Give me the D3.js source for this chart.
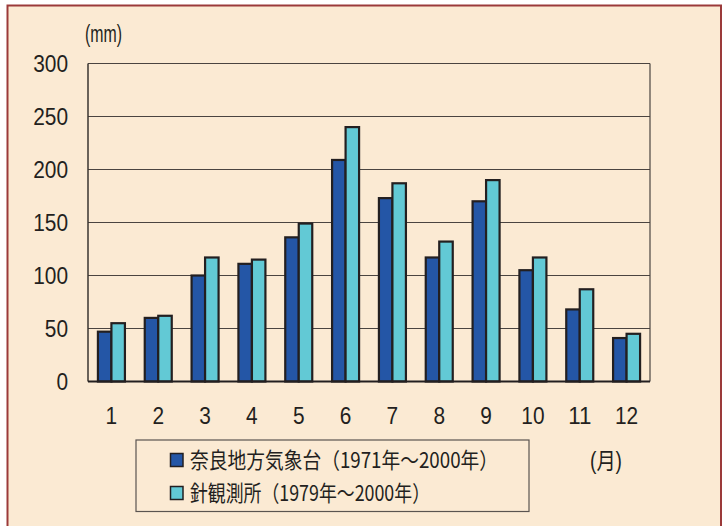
<!DOCTYPE html>
<html>
<head>
<meta charset="utf-8">
<script src="https://cdn.jsdelivr.net/npm/d3@7"></script>
<style>
  body { margin: 0; background: #fff; }
  svg text { font-family: "Liberation Sans Narrow", "Liberation Sans", "Noto Sans CJK JP", sans-serif; fill: #231f20; }
</style>
</head>
<body>
<svg id="chart"></svg>
<script>
/* Data */
const months = ["1", "2", "3", "4", "5", "6", "7", "8", "9", "10", "11", "12"];
const seriesNames = ["奈良地方気象台（1971年～2000年）", "針観測所（1979年～2000年）"];
const naraValues = [47, 60, 100, 111, 136, 209, 173, 117, 170, 105, 68, 41];
const hariValues = [55, 62, 117, 115, 149, 240, 187, 132, 190, 117, 87, 45];
const yTicks = [0, 50, 100, 150, 200, 250, 300];

const rows = months.map((m, i) => ({ month: m, values: [naraValues[i], hariValues[i]] }));

/* Chart dimensions */
const W = 723, H = 526;
const plot = { left: 88, right: 650, top: 63.5, bottom: 381.5 };

const svg = d3.select("#chart").attr("width", W).attr("height", H);

/* background + frame */
svg.append("rect")
    .attr("x", 7.5).attr("y", 5.5)
    .attr("width", 713.5).attr("height", 530)
    .attr("fill", "#fbead3")
    .attr("stroke", "#9b3a3a").attr("stroke-width", 2);

/* Scales */
const x = d3.scaleBand().domain(months).range([plot.left, plot.right]);
const xInner = d3.scaleBand().domain([0, 1]).range([0, 27]);
const y = d3.scaleLinear().domain([0, 300]).range([plot.bottom, plot.top]);
const colors = ["#2456a6", "#62c9d5"];

/* grid lines */
svg.append("g")
    .selectAll("line")
    .data(yTicks)
    .join("line")
      .attr("x1", plot.left).attr("x2", plot.right)
      .attr("y1", d => y(d)).attr("y2", d => y(d))
      .attr("stroke", "#4a4440").attr("stroke-width", 1.2);

/* plot frame (left, right) */
svg.append("line")
    .attr("x1", plot.left).attr("x2", plot.left)
    .attr("y1", plot.top).attr("y2", plot.bottom)
    .attr("stroke", "#3a3430").attr("stroke-width", 1.5);
svg.append("line")
    .attr("x1", plot.right).attr("x2", plot.right)
    .attr("y1", plot.top).attr("y2", plot.bottom)
    .attr("stroke", "#4a4440").attr("stroke-width", 1.2);

/* bars */
const groups = svg.append("g")
    .selectAll("g")
    .data(rows)
    .join("g")
      .attr("transform", d => `translate(${x(d.month) + x.bandwidth() / 2 - 13.5},0)`);

groups.selectAll("rect")
    .data(d => d.values.map((v, k) => ({ k, v })))
    .join("rect")
      .attr("x", d => xInner(d.k))
      .attr("y", d => y(d.v))
      .attr("width", xInner.bandwidth())
      .attr("height", d => y(0) - y(d.v))
      .attr("fill", d => colors[d.k])
      .attr("stroke", "#231f20")
      .attr("stroke-width", 2.2);

/* bottom axis line */
svg.append("line")
    .attr("x1", plot.left).attr("x2", plot.right)
    .attr("y1", plot.bottom).attr("y2", plot.bottom)
    .attr("stroke", "#231f20").attr("stroke-width", 2);

/* y tick labels (condensed digits) */
svg.append("g")
    .selectAll("text")
    .data(yTicks)
    .join("text")
      .attr("x", 68)
      .attr("y", d => y(d))
      .attr("dy", "0.36em")
      .attr("text-anchor", "end")
      .attr("textLength", d => String(d).length * 11.6)
      .attr("lengthAdjust", "spacingAndGlyphs")
      .style("font-size", "23px")
      .text(d => d);

/* x tick labels */
svg.append("g")
    .selectAll("text")
    .data(months)
    .join("text")
      .attr("x", d => x(d) + x.bandwidth() / 2)
      .attr("y", 416)
      .attr("dy", "0.36em")
      .attr("text-anchor", "middle")
      .attr("textLength", d => d.length * 11.6)
      .attr("lengthAdjust", "spacingAndGlyphs")
      .style("font-size", "23px")
      .text(d => d);

/* unit labels */
svg.append("text")
    .attr("x", 85).attr("y", 34).attr("dy", "0.36em")
    .attr("textLength", 37)
    .attr("lengthAdjust", "spacingAndGlyphs")
    .style("font-size", "23px")
    .text("(mm)");

svg.append("text")
    .attr("x", 590).attr("y", 461).attr("dy", "0.36em")
    .attr("textLength", 32)
    .attr("lengthAdjust", "spacingAndGlyphs")
    .style("font-size", "23px")
    .text("(月)");

/* legend */
const legend = svg.append("g");
legend.append("rect")
    .attr("x", 136).attr("y", 440)
    .attr("width", 393).attr("height", 71.5)
    .attr("fill", "none")
    .attr("stroke", "#5a5450").attr("stroke-width", 1.2);

const legendRows = [460, 493];
const legendWidths = [308, 240];
seriesNames.forEach((name, k) => {
  legend.append("rect")
      .attr("x", 170.5).attr("y", legendRows[k] - 6.5)
      .attr("width", 12.5).attr("height", 13)
      .attr("fill", colors[k])
      .attr("stroke", "#231f20").attr("stroke-width", 1.5);
  legend.append("text")
      .attr("x", 190).attr("y", legendRows[k])
      .attr("dy", "0.36em")
      .attr("textLength", legendWidths[k])
      .attr("lengthAdjust", "spacingAndGlyphs")
      .style("font-size", "22px")
      .style("font-family", "'Noto Sans CJK JP', sans-serif")
      .text(name);
});
</script>
</body>
</html>
